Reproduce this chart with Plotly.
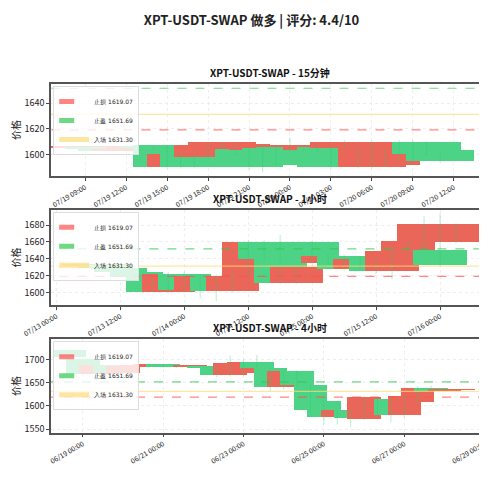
import plotly.graph_objects as go
from plotly.subplots import make_subplots
import pandas as pd

sl, tp, entry = 1619.07, 1651.69, 1631.30

# 15min panel (sampled)
t15 = pd.date_range("2025-07-19 09:00", periods=27, freq="1h")
o15 = [1605,1606,1604,1603,1604,1606,1607,1590,1600,1598,1606,1600,1604,1603,1605,1606,1604,1603,1606,1605,1604,1590,1592,1596,1595,1610,1603]
c15 = [1606,1604,1603,1604,1606,1605,1590,1600,1590,1607,1610,1608,1590,1607,1592,1604,1603,1607,1590,1610,1590,1610,1603,1610,1610,1600,1595]
h15 = [1606,1606,1605,1605,1607,1607,1607,1601,1600,1607,1610,1609,1605,1608,1606,1613,1605,1608,1607,1611,1605,1611,1604,1611,1611,1610,1603]
l15 = [1604,1603,1602,1602,1603,1604,1589,1589,1589,1597,1605,1599,1588,1586,1591,1603,1602,1602,1589,1604,1589,1589,1591,1595,1594,1599,1593]

# 1h panel (sampled)
t1 = pd.date_range("2025-07-13 06:00", periods=24, freq="3h")
o1 = [1631,1634,1629,1625,1618,1601,1622,1603,1620,1602,1620,1660,1640,1612,1660,1635,1643,1628,1640,1626,1649,1661,1650,1660]
c1 = [1634,1629,1625,1618,1601,1622,1603,1620,1602,1620,1660,1640,1612,1630,1635,1643,1628,1640,1626,1649,1661,1681,1633,1681]
h1 = [1635,1636,1632,1627,1620,1624,1625,1622,1621,1622,1662,1662,1668,1632,1661,1645,1645,1642,1642,1652,1662,1690,1694,1682]
l1 = [1629,1627,1623,1616,1600,1599,1601,1593,1590,1600,1618,1638,1610,1610,1633,1633,1626,1626,1622,1616,1647,1648,1630,1658]

# 4h panel (sampled)
t4 = pd.date_range("2025-06-18 16:00", periods=30, freq="8h")
o4 = [1720,1700,1668,1688,1670,1685,1688,1689,1685,1684,1686,1682,1665,1670,1693,1680,1640,1675,1645,1610,1575,1590,1572,1585,1615,1580,1608,1638,1632,1634]
c4 = [1705,1668,1688,1670,1685,1688,1689,1685,1684,1686,1682,1665,1692,1693,1680,1640,1675,1645,1590,1575,1590,1573,1618,1615,1580,1620,1638,1632,1636,1635]
h4 = [1722,1702,1692,1690,1695,1689,1690,1690,1686,1687,1687,1684,1708,1700,1710,1682,1678,1677,1648,1612,1592,1592,1620,1618,1617,1622,1642,1644,1638,1636]
l4 = [1700,1664,1655,1658,1668,1684,1686,1682,1681,1682,1680,1662,1663,1665,1678,1630,1635,1640,1585,1560,1560,1555,1570,1580,1565,1575,1606,1630,1630,1632]

RED, GREEN = "#e74c3c", "#2ecc71"

fig = make_subplots(rows=3, cols=1, vertical_spacing=0.11,
                    subplot_titles=["XPT-USDT-SWAP - 15分钟", "XPT-USDT-SWAP - 1小时", "XPT-USDT-SWAP - 4小时"])

def panel(row, t, o, c, h, l, width_ms, leg):
    cols = [RED if cc >= oo else GREEN for oo, cc in zip(o, c)]
    wx, wy = [], []
    for ti, hi, lo in zip(t, h, l):
        wx += [ti, ti, None]; wy += [lo, hi, None]
    fig.add_trace(go.Scatter(x=wx, y=wy, mode="lines", line=dict(color="rgba(46,204,113,0.35)", width=1),
                             showlegend=False, hoverinfo="skip"), row=row, col=1)
    fig.add_trace(go.Bar(x=t, base=[min(a, b) for a, b in zip(o, c)],
                         y=[max(abs(b - a), 0.4) for a, b in zip(o, c)],
                         width=width_ms, marker=dict(color=cols, line=dict(width=0)), opacity=0.85,
                         showlegend=False), row=row, col=1)
    xs = [t[0] - pd.Timedelta(hours=100), t[-1] + pd.Timedelta(hours=100)]
    for val, name, color, dash in [(sl, f"止损 {sl:.2f}", "rgba(255,80,80,0.7)", "dash"),
                                   (tp, f"止盈 {tp:.2f}", "rgba(50,200,80,0.7)", "dash"),
                                   (entry, f"入场 {entry:.2f}", "rgba(255,220,120,0.7)", "solid")]:
        fig.add_trace(go.Scatter(x=xs, y=[val, val], mode="lines", name=name, legend=leg,
                                 line=dict(color=color, width=1.2, dash=dash)), row=row, col=1)

panel(1, t15, o15, c15, h15, l15, 5 * 3600e3, "legend")
panel(2, t1, o1, c1, h1, l1, 10 * 3600e3, "legend2")
panel(3, t4, o4, c4, h4, l4, 20 * 3600e3, "legend3")

xr = [["2025-07-19 06:30", "2025-07-20 14:30"], ["2025-07-12 23:00", "2025-07-16 09:00"], ["2025-06-18 05:00", "2025-06-29 02:00"]]
yr = [[1583, 1655], [1585, 1698], [1543, 1743]]
ydt = [20, 20, 50]
dt = [3 * 3600e3, 12 * 3600e3, 2 * 86400e3]
t0 = ["2025-07-19 09:00", "2025-07-13 00:00", "2025-06-19 00:00"]
for i in range(3):
    fig.update_xaxes(range=xr[i], tickformat="%m/%d %H:%M", tickangle=-30, dtick=dt[i], tick0=t0[i],
                     showgrid=True, gridcolor="#eeeeee", griddash="dot", showline=True, mirror=True,
                     linecolor="#555", linewidth=1.5, ticks="outside", ticklen=3,
                     tickfont=dict(size=7), row=i + 1, col=1)
    fig.update_yaxes(range=yr[i], dtick=ydt[i], title_text="价格", title_font=dict(size=10), title_standoff=4,
                     showgrid=True, gridcolor="#eeeeee", griddash="dot", showline=True, mirror=True,
                     linecolor="#555", linewidth=1.5, ticks="outside", ticklen=3,
                     tickfont=dict(size=9), row=i + 1, col=1)

doms = [(0.756, 0.985), (0.435, 0.672), (0.118, 0.350)]
legs = {}
for i, (lo, hi) in enumerate(doms):
    key = "yaxis" if i == 0 else f"yaxis{i+1}"
    fig.layout[key].domain = [lo, hi]
    lname = "legend" if i == 0 else f"legend{i+1}"
    legs[lname] = dict(x=0.005, y=hi - 0.005, xanchor="left", yanchor="top", font=dict(size=6, family="DejaVu Sans"),
                       bgcolor="rgba(255,255,255,0.8)", bordercolor="#ddd", borderwidth=1,
                       tracegroupgap=0, itemwidth=30, itemsizing="constant")
fig.update_layout(**legs)
for i, a in enumerate(fig.layout.annotations):
    a.y = doms[i][1] + 0.005
    a.font = dict(size=10, color="#111", family="Noto Sans CJK SC")
    a.text = "<b>" + a.text + "</b>"

fig.update_layout(width=487, height=500, margin=dict(l=42, r=5, t=70, b=28),
                  title=dict(text="<b>XPT-USDT-SWAP 做多 | 评分: 4.4/10</b>", x=0.5, y=0.985, font=dict(size=13)),
                  font=dict(family="Noto Sans CJK SC", color="#222"),
                  plot_bgcolor="white", paper_bgcolor="white", barmode="overlay", bargap=0)
fig.write_html("out.html")
